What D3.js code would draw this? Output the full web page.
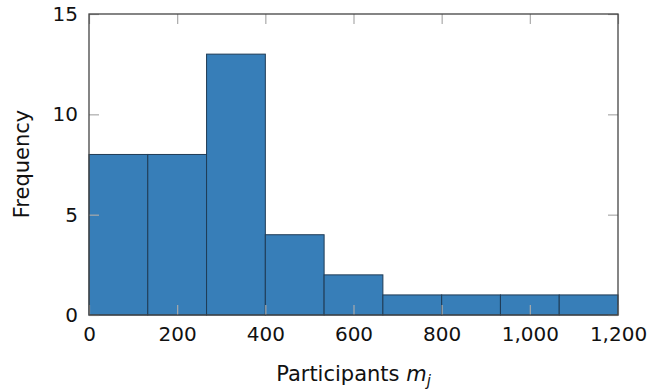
<!DOCTYPE html>
<html>
<head>
<meta charset="utf-8">
<script src="https://cdn.jsdelivr.net/npm/d3@7"></script>
<style>
  body { margin: 0; background: #fff; }
  text { font-family: "DejaVu Sans", sans-serif; fill: #111; }
</style>
</head>
<body>
<div id="chart"></div>
<script>
// histogram of participants per study
var binEdges = [0, 133.33, 266.67, 400, 533.33, 666.67, 800, 933.33, 1066.67, 1200];
var counts = [8, 8, 13, 4, 2, 1, 1, 1, 1];
var xTicks = [0, 200, 400, 600, 800, 1000, 1200];
var yTicks = [0, 5, 10, 15];

var margin = {top: 14, right: 31, bottom: 76, left: 89},
    width = 649 - margin.left - margin.right,
    height = 391 - margin.top - margin.bottom;

var svg = d3.select("#chart")
  .append("svg")
    .attr("width", 649)
    .attr("height", 391)
  .append("g")
    .attr("transform", "translate(" + margin.left + "," + margin.top + ")");

var x = d3.scaleLinear().domain([0, 1200]).range([0, width]);
var y = d3.scaleLinear().domain([0, 15]).range([height, 0]);

var bins = counts.map(function(c, i) { return {x0: binEdges[i], x1: binEdges[i + 1], n: c}; });

svg.selectAll(".bar")
  .data(bins)
  .enter().append("rect")
    .attr("class", "bar")
    .attr("x", function(d) { return x(d.x0); })
    .attr("y", function(d) { return y(d.n); })
    .attr("width", function(d) { return x(d.x1) - x(d.x0); })
    .attr("height", function(d) { return height - y(d.n); })
    .attr("fill", "#377eb8")
    .attr("stroke", "#1f3b55")
    .attr("stroke-width", 1);

// ticks inside, on all four sides
var tickLen = 10;
var fmt = d3.format(",");

function styleAxis(g) {
  g.select(".domain").remove();
  g.selectAll(".tick line").attr("stroke", "#aaa").attr("stroke-width", 1.2);
}

svg.append("g")
  .attr("transform", "translate(0," + height + ")")
  .call(d3.axisBottom(x).tickValues(xTicks).tickSize(-tickLen).tickPadding(12).tickFormat(fmt))
  .call(styleAxis)
  .selectAll("text").style("font-size", "20px").attr("fill", "#111");

svg.append("g")
  .call(d3.axisTop(x).tickValues(xTicks).tickSize(-tickLen).tickFormat(""))
  .call(styleAxis);

svg.append("g")
  .call(d3.axisLeft(y).tickValues(yTicks).tickSize(-tickLen).tickPadding(11))
  .call(styleAxis)
  .selectAll("text").style("font-size", "20px").attr("fill", "#111");

svg.append("g")
  .attr("transform", "translate(" + width + ",0)")
  .call(d3.axisRight(y).tickValues(yTicks).tickSize(-tickLen).tickFormat(""))
  .call(styleAxis);

// frame
svg.append("rect")
  .attr("width", width)
  .attr("height", height)
  .attr("fill", "none")
  .attr("stroke", "#444")
  .attr("stroke-width", 1.3);

// axis labels
var xl = svg.append("text")
  .attr("x", width / 2)
  .attr("y", height + 66)
  .style("text-anchor", "middle")
  .style("font-size", "21px");
xl.append("tspan").text("Participants ");
xl.append("tspan").style("font-style", "italic").text("m");
xl.append("tspan").style("font-style", "italic").style("font-size", "15px").attr("dy", 5).text("j");

svg.append("text")
  .attr("transform", "rotate(-90)")
  .attr("x", -150)
  .attr("y", -60)
  .style("text-anchor", "middle")
  .style("font-size", "21px")
  .text("Frequency");
</script>
</body>
</html>
